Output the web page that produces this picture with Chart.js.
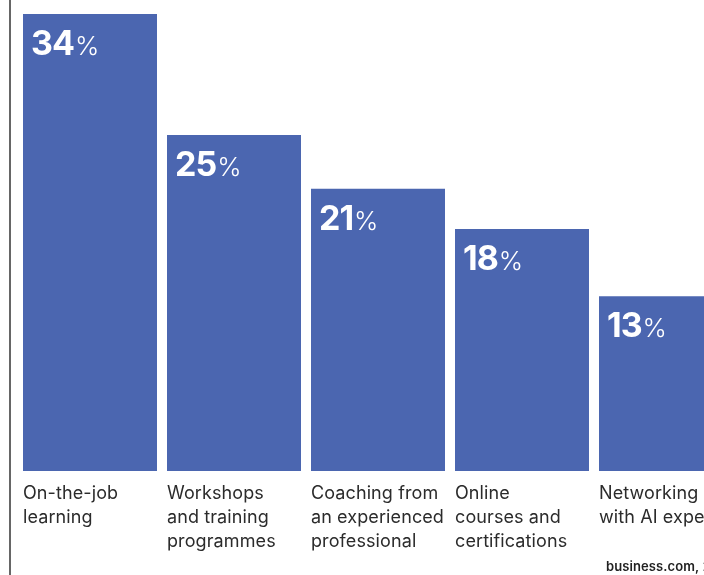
<!DOCTYPE html>
<html>
<head>
<meta charset="utf-8">
<script src="https://cdn.jsdelivr.net/npm/chart.js@4/dist/chart.umd.min.js"></script>
<style>
  html, body { margin: 0; padding: 0; background: #fff; overflow: hidden; }
  #chart { display: block; }
</style>
</head>
<body>
<canvas id="chart" width="760" height="575"></canvas>
<script>
var categories = [
    ["On-the-job", "learning"],
    ["Workshops", "and training", "programmes"],
    ["Coaching from", "an experienced", "professional"],
    ["Online", "courses and", "certifications"],
    ["Networking", "with AI experts"]
];
var values = [34, 25, 21, 18, 13];
var source = "business.com, 2024";

var barBlue = '#4b66b0';
var labelFont = '"Inter", "Liberation Sans", sans-serif';

// draws the frame line, value labels inside bars and category labels under them
var labelsPlugin = {
    id: 'labels',
    afterDatasetsDraw: function (chart) {
        var ctx = chart.ctx;
        var meta = chart.getDatasetMeta(0);
        var area = chart.chartArea;

        ctx.save();
        ctx.strokeStyle = '#333';
        ctx.lineWidth = 1.5;
        ctx.beginPath();
        ctx.moveTo(10, 0);
        ctx.lineTo(10, chart.height);
        ctx.stroke();

        meta.data.forEach(function (bar, i) {
            var left = bar.x - bar.width / 2;

            ctx.fillStyle = '#fff';
            ctx.textAlign = 'left';
            ctx.textBaseline = 'alphabetic';
            ctx.letterSpacing = '-1px';
            ctx.font = 'bold 34px ' + labelFont;
            var num = String(values[i]);
            ctx.fillText(num, left + 8, bar.y + 41);
            var w = ctx.measureText(num).width;
            ctx.letterSpacing = '0px';
            ctx.font = '300 26px ' + labelFont;
            ctx.fillText('%', left + 8 + w + 1, bar.y + 41);

            ctx.fillStyle = '#2b2b2b';
            ctx.letterSpacing = '0.1px';
            ctx.font = '18px ' + labelFont;
            categories[i].forEach(function (line, j) {
                ctx.fillText(line, left, area.bottom + 28 + j * 24);
            });
        });

        ctx.fillStyle = '#222';
        ctx.letterSpacing = '0.1px';
        ctx.font = '600 13px ' + labelFont;
        ctx.fillText(source, 606, 571);
        ctx.restore();
    }
};

var chart = new Chart(document.getElementById('chart'), {
    type: 'bar',
    data: {
        labels: categories,
        datasets: [{
            data: values,
            backgroundColor: barBlue,
            borderWidth: 0,
            barPercentage: 134 / 144,
            categoryPercentage: 1
        }]
    },
    options: {
        responsive: false,
        animation: false,
        layout: { padding: { left: 18, right: 22, top: 14, bottom: 104 } },
        plugins: {
            legend: { display: false },
            tooltip: { enabled: false }
        },
        scales: {
            x: { display: false },
            y: { display: false, min: 0, max: 34 }
        }
    },
    plugins: [labelsPlugin]
});
</script>
</body>
</html>
